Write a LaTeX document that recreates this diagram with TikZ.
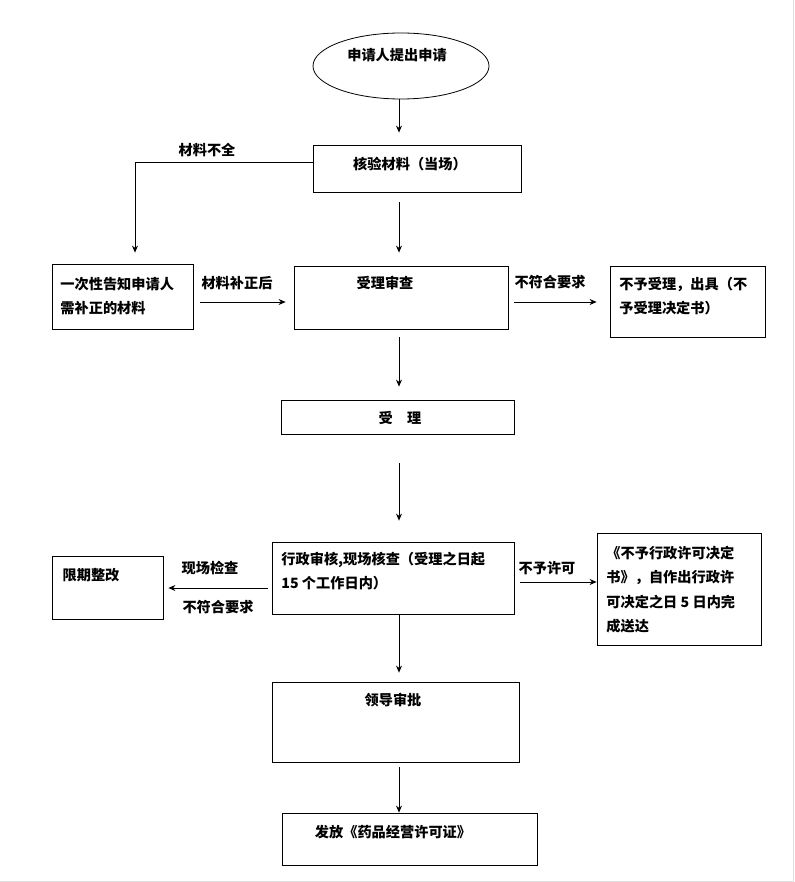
\documentclass[tikz,border=0pt]{standalone}
\usepackage{fontspec}
\setmainfont{Noto Sans CJK SC}
\usetikzlibrary{arrows.meta,shapes.geometric}

\tikzset{
    box/.style={draw,rectangle,inner sep=0pt},
    txt/.style={inner sep=0pt,anchor=west,font=\fontsize{14.2}{24}\selectfont\bfseries,align=left},
    lbl/.style={inner sep=0pt,font=\fontsize{14.2}{16}\selectfont\bfseries},
}

\begin{document}
\begin{tikzpicture}[x=1pt,y=-1pt,line width=0.8pt,>={Stealth[length=7pt,width=6pt]}]
                \useasboundingbox (0,0) rectangle (794,882);
                \draw[gray!25,line width=1pt] (793,0) -- (793,881) -- (0,881);
                \coordinate (spine) at (399,0);

                \node[draw,ellipse,minimum width=176,minimum height=66,inner sep=0pt] (apply) at (401,66) {};
                \node[lbl] (apply-t) at (397,55) {申请人提出申请};

                \node[box,minimum width=208,minimum height=47] (check) at (417,168.5) {};
                \node[lbl] (check-t) at (410,164) {核验材料（当场）};

                \node[box,minimum width=141,minimum height=65] (notify) at (122.5,296.5) {};
                \node[txt] (notify-t) at (60,296) {一次性告知申请人\\需补正的材料};

                \node[box,minimum width=214,minimum height=63] (review) at (401,297.5) {};
                \node[lbl] (review-t) at (385,283) {受理审查};

                \node[box,minimum width=155,minimum height=71] (reject) at (687.5,301.5) {};
                \node[txt] (reject-t) at (619,296) {不予受理，出具（不\\予受理决定书）};

                \node[box,minimum width=233,minimum height=34] (accept) at (397.5,417) {};
                \node[lbl] (accept-t) at (400,418) {受\quad 理};

                \node[box,minimum width=242,minimum height=72] (admin) at (393,578) {};
                \node[txt] (admin-t) at (281,571) {行政审核,现场核查（受理之日起\\15 个工作日内）};

                \node[box,minimum width=111,minimum height=63] (rectify) at (107.5,587.5) {};
                \node[lbl] (rectify-t) at (91,575) {限期整改};

                \node[box,minimum width=164,minimum height=112] (deny) at (679,589) {};
                \node[txt,font=\fontsize{14.2}{24.3}\selectfont\bfseries] (deny-t) at (606,589.5) {《不予行政许可决定\\书》，自作出行政许\\可决定之日 5 日内完\\成送达};

                \node[box,minimum width=247,minimum height=80] (approve) at (395.5,722) {};
                \node[lbl] (approve-t) at (393,700) {领导审批};

                \node[box,minimum width=255,minimum height=52] (issue) at (409.5,839) {};
                \node[lbl] (issue-t) at (393,832) {发放《药品经营许可证》};

                % main line
                \draw[->] (apply.south -| spine) -- ([yshift=12pt]check.north -| spine);
                \draw[->] ([yshift=-10pt]check.south -| spine) -- ([yshift=13pt]review.north -| spine);
                \draw[->] ([yshift=-8pt]review.south -| spine) -- ([yshift=13pt]accept.north -| spine);
                \draw[->] ([yshift=-29pt]accept.south -| spine) -- ([yshift=21pt]admin.north -| spine);
                \draw[->] (admin.south -| spine) -- ([yshift=9pt]approve.north -| spine);
                \draw[->] ([yshift=-5pt]approve.south -| spine) -- (issue.north -| spine);

                % side branches
                \draw[->] ([yshift=6.5pt]check.west) -| ([xshift=12.5pt,yshift=11pt]notify.north);
                \node[lbl] (short-l) at (207,150) {材料不全};

                \draw[->] ([xshift=7pt,yshift=-5.5pt]notify.east) -- ([xshift=-8pt,yshift=-4.5pt]review.west);
                \node[lbl] (fix-l) at (237,283) {材料补正后};

                \draw[->] ([xshift=6pt,yshift=-4.5pt]review.east) -- ([xshift=-13pt,yshift=-0.5pt]reject.west);
                \node[lbl] (bad-l) at (550,282) {不符合要求};

                \draw[->] ([xshift=-4pt,yshift=-10pt]admin.west) -- ([xshift=5pt,yshift=-0.5pt]rectify.east);
                \node[lbl] (site-l) at (210,568) {现场检查};
                \node[lbl] (bad2-l) at (218,607) {不符合要求};

                \draw[->] ([xshift=6pt,yshift=-4pt]admin.east) -- ([yshift=7pt]deny.west);
                \node[lbl] (deny-l) at (547,568) {不予许可};
\end{tikzpicture}
\end{document}
